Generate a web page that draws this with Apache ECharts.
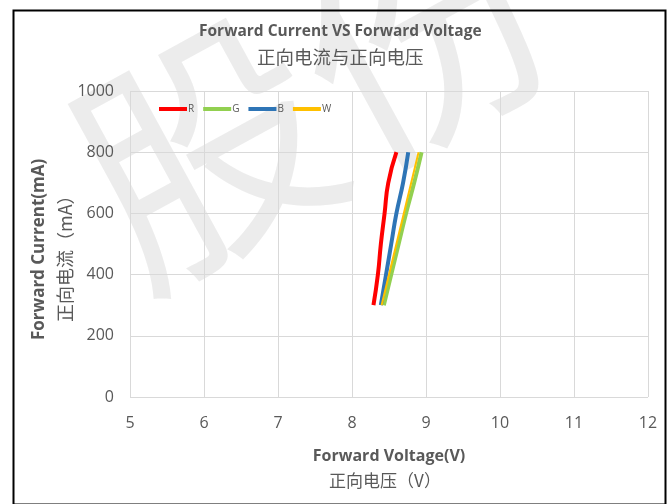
<!DOCTYPE html>
<html>
<head>
<meta charset="utf-8">
<script src="https://cdn.jsdelivr.net/npm/echarts@6/dist/echarts.min.js"></script>
<style>
  html, body { margin: 0; padding: 0; background: #fff; }
  #main { width: 672px; height: 504px; }
</style>
</head>
<body>
<div id="main"></div>
<script>
// 电流点 (mA)
var current = [300, 400, 500, 600, 700, 800];
// 各颜色的正向电压 (V)
var voltR = [8.29, 8.35, 8.39, 8.44, 8.49, 8.60];
var voltG = [8.43, 8.53, 8.63, 8.73, 8.84, 8.94];
var voltB = [8.39, 8.46, 8.53, 8.60, 8.69, 8.76];
var voltW = [8.40, 8.50, 8.60, 8.70, 8.80, 8.90];
var seriesNames = ['R', 'G', 'B', 'W'];
var seriesColors = ['#ff0000', '#92d050', '#2e75b6', '#ffc000'];
var seriesWidths = [4, 4, 4, 2];

function pairs(volt) {
    return volt.map(function (v, i) { return [v, current[i]]; });
}
var allVolt = [voltR, voltG, voltB, voltW];

var myChart = echarts.init(document.getElementById('main'));
var series = [];
for (var i = 0; i < seriesNames.length; i++) {
    series.push({
        name: seriesNames[i],
        type: 'line',
        smooth: true,
        showSymbol: false,
        data: pairs(allVolt[i]),
        lineStyle: { color: seriesColors[i], width: seriesWidths[i] },
        itemStyle: { color: seriesColors[i] }
    });
}

myChart.setOption({
    backgroundColor: '#fff',
    animation: false,
    textStyle: { fontFamily: 'Open Sans' },
    title: [{
        text: 'Forward Current VS Forward Voltage',
        left: 194, top: 19,
        textStyle: { fontSize: 15.5, fontWeight: 'bold', color: '#595959', fontFamily: 'Open Sans' }
    }, {
        text: '正向电流与正向电压',
        left: 252, top: 43,
        textStyle: { fontSize: 18.5, fontWeight: 'normal', color: '#595959', fontFamily: 'Noto Sans CJK SC' }
    }],
    graphic: [
        { type: 'rect', left: 11, top: 8, z: 100, silent: true,
          shape: { width: 652, height: 494 },
          style: { fill: 'none', stroke: '#000', lineWidth: 2 } },
        // 水印
        { type: 'text', x: 35, y: 100, rotation: 0.5, z: -10, silent: true,
          style: { text: '股份', fontSize: 250, fill: 'rgba(200,200,200,0.35)', fontFamily: 'Noto Sans CJK SC', fontWeight: 'normal' } },
        { type: 'text', x: 31, y: 340, rotation: Math.PI / 2, silent: true,
          style: { text: 'Forward Current(mA)', fontSize: 17, fontWeight: 'bold', fill: '#595959', fontFamily: 'Open Sans' } },
        { type: 'text', x: 56, y: 322, rotation: Math.PI / 2, silent: true,
          style: { text: '正向电流（mA）', fontSize: 18, fill: '#595959', fontFamily: 'Noto Sans CJK SC' } },
        { type: 'text', x: 389, y: 456, silent: true,
          style: { text: 'Forward Voltage(V)', fontSize: 16, fontWeight: 'bold', fill: '#595959', fontFamily: 'Open Sans',
                   align: 'center', verticalAlign: 'middle' } },
        { type: 'text', x: 385, y: 481, silent: true,
          style: { text: '正向电压（V）', fontSize: 17, fill: '#595959', fontFamily: 'Noto Sans CJK SC',
                   align: 'center', verticalAlign: 'middle' } }
    ],
    legend: {
        data: seriesNames,
        left: 154, top: 99,
        itemWidth: 28, itemHeight: 4, itemGap: 9,
        icon: 'rect',
        textStyle: { fontSize: 10, color: '#595959', padding: [0, 0, 0, -4] }
    },
    grid: { left: 130, right: 24, top: 91, bottom: 107 },
    xAxis: {
        type: 'value', min: 5, max: 12, interval: 1,
        axisLine: { show: false },
        axisTick: { show: false },
        axisLabel: { fontSize: 16, color: '#595959', margin: 18 },
        splitLine: { lineStyle: { color: '#d9d9d9', width: 1 } }
    },
    yAxis: {
        type: 'value', min: 0, max: 1000, interval: 200,
        axisLine: { show: false },
        axisTick: { show: false },
        axisLabel: { fontSize: 16, color: '#595959', margin: 16,
                     formatter: function (v) { return String(v); } },
        splitLine: { lineStyle: { color: '#d9d9d9', width: 1 } }
    },
    series: series
});
</script>
</body>
</html>
